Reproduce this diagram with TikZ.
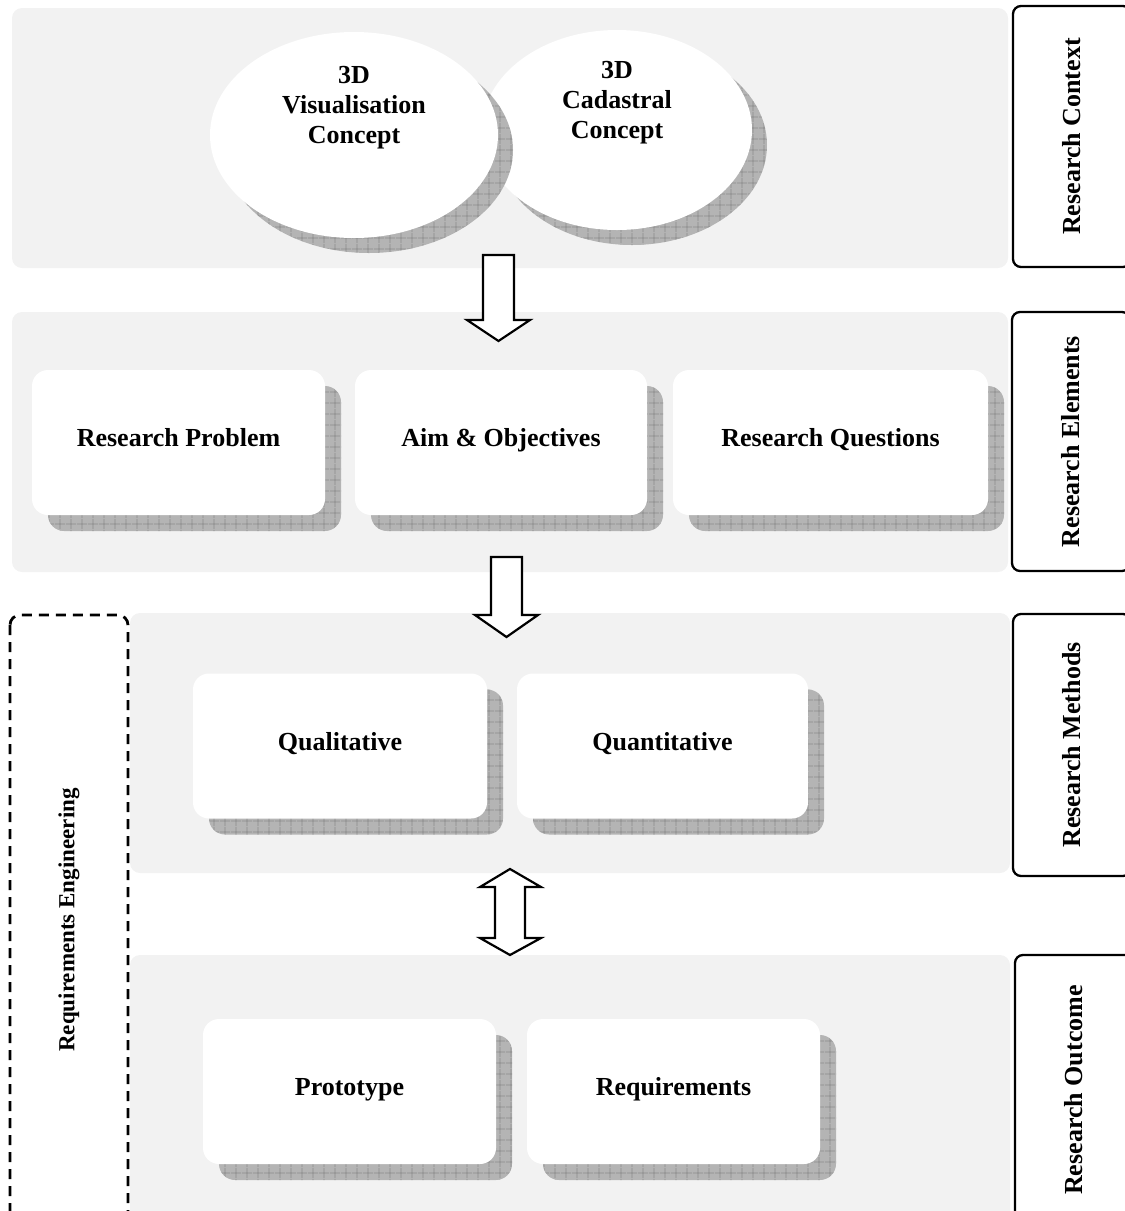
\documentclass[tikz,border=0pt]{standalone}
\usepackage{fontspec}
\setmainfont{Liberation Serif}
\usetikzlibrary{shapes.geometric,patterns.meta}

\tikzdeclarepattern{
  name=shgrid,
  type=uncolored,
  bounding box={(0pt,0pt) and (11pt,11pt)},
  tile size={(11pt,11pt)},
  code={\draw[line width=0.9pt] (0pt,5.5pt) -- (11pt,5.5pt) (5.5pt,0pt) -- (5.5pt,11pt);}
}

\definecolor{panelgray}{HTML}{F2F2F2}
\definecolor{shfill}{HTML}{B4B4B4}
\definecolor{shline}{HTML}{8A8A8A}

\tikzset{
  shadowed/.style={
    preaction={fill=shfill, transform canvas={xshift=#1,yshift=-#1}},
    preaction={pattern=shgrid, pattern color=shline, transform canvas={xshift=#1,yshift=-#1}}},
  shadowed/.default=16pt,
  boldtext/.style={font=\fontsize{26}{30}\selectfont\bfseries},
  stagebox/.style={shadowed, rectangle, rounded corners=16pt, fill=white,
    minimum height=145pt, inner sep=0pt, boldtext,
    text height=18pt, text depth=10pt},
  concept/.style={shadowed=15pt, ellipse, fill=white, inner sep=0pt},
  concepttext/.style={align=center, boldtext},
  panel/.style={fill=panelgray, rounded corners=10pt},
  sidebox/.style={draw, line width=2.3pt, rounded corners=8pt, rotate=90,
    minimum height=118pt, inner sep=0pt, fill=white,
    font=\fontsize{26}{30}\selectfont\bfseries},
  reqbox/.style={draw, line width=2.8pt, dash pattern=on 10pt off 7pt, rounded corners=10pt,
    rotate=90, minimum height=118pt, inner sep=0pt,
    font=\fontsize{23}{28}\selectfont\bfseries},
  blockarrow/.style={draw, fill=white, line width=2.2pt, line join=miter}
}

\begin{document}
\begin{tikzpicture}[x=1pt,y=-1pt]
\useasboundingbox (0,0) rectangle (1125,1211);

% panels
\fill[panel] (12,8) rectangle (1008,268);
\fill[panel] (12,312) rectangle (1008,572);
\fill[panel] (130,613) rectangle (1010,873);
\fill[panel] (130,955) rectangle (1010,1240);

% side labels
\node[sidebox, minimum width=261pt] (ctx) at (1072,136.5) {Research Context};
\node[sidebox, minimum width=259pt] (ele) at (1071,441.5) {Research Elements};
\node[sidebox, minimum width=262pt] (met) at (1072,745) {Research Methods};
\node[sidebox, minimum width=270pt] (out) at (1074,1090) {Research Outcome};

% requirements engineering
\node[reqbox, minimum width=610pt] (reqeng) at (69,920) {Requirements Engineering};

% concepts
\node[concept, minimum width=270pt, minimum height=200pt] (cad) at (617,130) {};
\node[concepttext] (cadt) at ([yshift=27pt]cad.center) {3D\\Cadastral\\Concept};
\node[concept, minimum width=288pt, minimum height=206pt] (vis) at (354,135) {};
\node[concepttext] (vist) at ([yshift=27pt]vis.center) {3D\\Visualisation\\Concept};

% research elements
\node[stagebox, minimum width=293pt] (prob) at (178.5,442.5) {Research Problem};
\node[stagebox, minimum width=292pt] (aim) at (501,442.5) {Aim \& Objectives};
\node[stagebox, minimum width=315pt] (rq) at (830.5,442.5) {Research Questions};

% methods
\node[stagebox, minimum width=294pt] (qual) at (340,746) {Qualitative};
\node[stagebox, minimum width=291pt] (quan) at (662.5,746) {Quantitative};

% outcome
\node[stagebox, minimum width=293pt] (proto) at (349.5,1091.5) {Prototype};
\node[stagebox, minimum width=293pt] (reqs) at (673.5,1091.5) {Requirements};

% block arrows
\draw[blockarrow] (483,255) -- (514,255) -- (514,320) -- (530,320) -- (498.5,341)
  -- (467,320) -- (483,320) -- cycle;
\draw[blockarrow] (491,557) -- (522,557) -- (522,615) -- (538,615) -- (506.5,637)
  -- (475,615) -- (491,615) -- cycle;
\draw[blockarrow] (510,869) -- (541,887) -- (525,887) -- (525,938) -- (541,938)
  -- (510,955) -- (480,938) -- (495,938) -- (495,887) -- (480,887) -- cycle;
\end{tikzpicture}
\end{document}
